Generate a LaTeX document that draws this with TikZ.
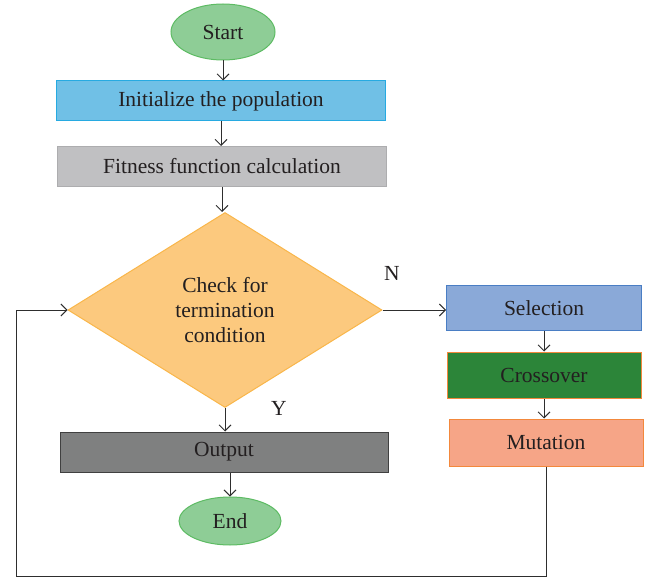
\documentclass[tikz,border=0pt]{standalone}
\usepackage{fontspec}
\setmainfont{Liberation Serif}
\usetikzlibrary{shapes.geometric,arrows.meta}
\definecolor{txt}{HTML}{231F20}
\definecolor{linec}{HTML}{2E2E2E}
\definecolor{termfill}{HTML}{8ECD96}
\definecolor{termline}{HTML}{5DBB63}
\definecolor{initfill}{HTML}{70C0E6}
\definecolor{initline}{HTML}{27AAE1}
\definecolor{fitfill}{HTML}{C0C0C2}
\definecolor{checkfill}{HTML}{FCC97E}
\definecolor{checkline}{HTML}{F9B64A}
\definecolor{outfill}{HTML}{7F8080}
\definecolor{selfill}{HTML}{8AA9D8}
\definecolor{selline}{HTML}{4A7EC4}
\definecolor{crossfill}{HTML}{2C8539}
\definecolor{orangeline}{HTML}{F3883C}
\definecolor{mutfill}{HTML}{F6A587}
\begin{document}
\begin{tikzpicture}[x=1pt,y=-1pt,
    every node/.style={font=\fontsize{21.5}{25}\selectfont, text=txt},
    box/.style={draw, line width=1pt, minimum width=329pt, minimum height=40pt, inner sep=0pt},
    opbox/.style={draw=orangeline, line width=1pt, minimum width=194pt, minimum height=46pt, inner sep=0pt},
    term/.style={ellipse, draw=termline, fill=termfill, line width=1pt, minimum width=104pt, minimum height=56pt, inner sep=0pt},
    arr/.style={draw=linec, line width=.9pt, -{Straight Barb[length=6pt,width=12pt]}}]
    \useasboundingbox (0,0) rectangle (648,580);
    % main column
    \node[term] (start) at (223,32) {Start};
    \node[box, fill=initfill, draw=initline] (init) at (221,101) {Initialize the population};
    \node[box, fill=fitfill, draw=fitfill!90!black] (fit) at (222,166.5) {Fitness function calculation};
    \node[diamond, draw=checkline, fill=checkfill, line width=1pt, minimum width=314pt, minimum height=195pt,
        aspect=1.6, inner sep=0pt, align=center] (check) at (225,310) {Check for\\termination\\condition};
    \node[box, fill=outfill, draw=black!75, minimum width=328pt] (out) at (224,452) {Output};
    \node[term, minimum width=102pt, minimum height=48pt] (end) at (230,521) {End};
    % operators
    \node[box, fill=selfill, draw=selline, minimum width=195pt, minimum height=45pt] (sel) at (544,308) {Selection};
    \node[opbox, fill=crossfill] (cross) at (544,375) {Crossover};
    \node[opbox, fill=mutfill, minimum height=47pt] (mut) at (546,442.5) {Mutation};
    \node (n) at (392,273) {N};
    \node (y) at (279,408) {Y};
    \foreach \a/\b in {start/init, init/fit, fit/check, check/out, sel/cross, cross/mut}{
        \draw[arr] (\a.south) -- (\a.south |- \b.north);
    }
    \draw[arr] (end.north |- out.south) -- (end.north);
    \draw[arr] (check.east) -- (sel.west |- check.east);
    \coordinate (back) at (16,576);
    \draw[arr] (mut.south) |- (back) |- (check.west);
\end{tikzpicture}
\end{document}
